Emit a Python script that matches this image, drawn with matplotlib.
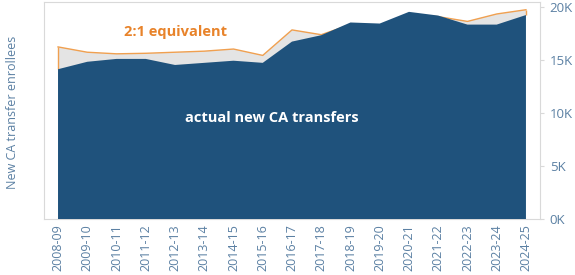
import matplotlib.pyplot as plt

# School years on the x axis
years = ["2008-09", "2009-10", "2010-11", "2011-12", "2012-13", "2013-14",
         "2014-15", "2015-16", "2016-17", "2017-18", "2018-19", "2019-20",
         "2020-21", "2021-22", "2022-23", "2023-24", "2024-25"]

# actual new CA transfer enrollees
actual = [14100, 14800, 15070, 15070, 14500, 14700, 14900, 14700, 16700,
          17300, 18500, 18400, 19500, 19150, 18300, 18300, 19200]

# 2:1 equivalent
equivalent = [16200, 15700, 15550, 15600, 15700, 15800, 16000, 15400, 17800,
              17350, 18300, 18200, 19300, 19050, 18600, 19300, 19700]

yticks = [0, 5000, 10000, 15000, 20000]
ytick_labels = ["0K", "5K", "10K", "15K", "20K"]

DARK = "#1f527c"
ORANGE = "#f0a050"
ORANGE_TEXT = "#e8832a"
GRAY = "#e4e4e4"
AXIS_TXT = "#5b80a3"
LINE = "#d9d9d9"

plt.rcParams["font.family"] = ["Open Sans", "DejaVu Sans"]

fig = plt.figure(figsize=(5.75, 2.75), dpi=100)
ax = fig.add_axes([0.0765, 0.2036, 0.8626, 0.79])

x = list(range(len(years)))
# gray band + orange outline for the 2:1 equivalent, dark area on top
ax.fill_between(x, 0, equivalent, facecolor=GRAY, edgecolor="none", zorder=2)
ax.plot(x, equivalent, color=ORANGE, linewidth=1.0, zorder=2.5)
ax.vlines([x[0], x[-1]], [actual[0], actual[-1]],
          [equivalent[0], equivalent[-1]], color=ORANGE, linewidth=1.0,
          zorder=2.5)
ax.fill_between(x, 0, actual, facecolor=DARK, edgecolor="none",
                linewidth=0, zorder=3)

ax.set_xlim(-0.48, 16.48)
ax.set_ylim(0, 20450)

ax.yaxis.tick_right()
ax.set_yticks(yticks)
ax.set_yticklabels(ytick_labels)
ax.tick_params(axis="y", colors=AXIS_TXT, labelsize=9.5, length=3,
               color=LINE, pad=4)
for lbl in ax.get_yticklabels():
    lbl.set_color(AXIS_TXT)

ax.set_xticks(x)
ax.set_xticklabels(years, rotation=90)
ax.tick_params(axis="x", labelsize=9, length=0, pad=4)
for lbl in ax.get_xticklabels():
    lbl.set_color(AXIS_TXT)

ax.set_yticks([10000, 20000], minor=True)
ax.grid(True, axis="y", which="minor", color="#eeeeee", linewidth=0.8, zorder=0)
ax.tick_params(axis="y", which="minor", length=0)

for side in ["top", "left", "right", "bottom"]:
    ax.spines[side].set_color(LINE)
    ax.spines[side].set_linewidth(0.8)

fig.text(0.021, 0.59, "New CA transfer enrollees", rotation=90, ha="center",
         va="center", color=AXIS_TXT, fontsize=9)

ax.text(4.0, 16900, "2:1 equivalent", color=ORANGE_TEXT, fontsize=10.5,
        fontweight="bold", ha="center", va="bottom", zorder=5)
ax.text(7.3, 9500, "actual new CA transfers", color="white", fontsize=10.5,
        fontweight="bold", ha="center", va="center", zorder=5)

fig.savefig("out.png", dpi=100)
